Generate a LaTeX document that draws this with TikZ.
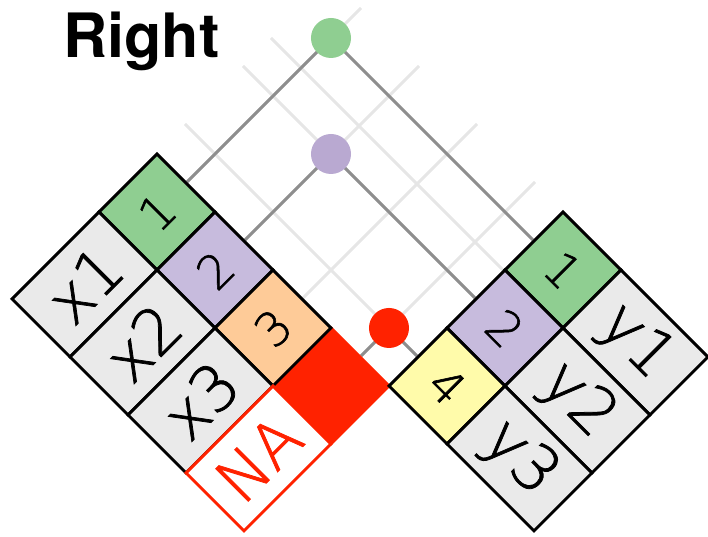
\documentclass[tikz,border=0pt]{standalone}
\usepackage{fontspec}
\setmainfont{DejaVu Sans ExtraLight}[FakeBold=1.2]
\newfontfamily\titlefont{TeX Gyre Heros}
\usetikzlibrary{positioning}
\pgfdeclarelayer{back}
\pgfsetlayers{back,main}

\definecolor{keygreen}{HTML}{8FCE91}
\definecolor{keypurple}{HTML}{C7BBDD}
\definecolor{keyorange}{HTML}{FECB98}
\definecolor{keyyellow}{HTML}{FFFBAA}
\definecolor{keyred}{HTML}{FF2200}
\definecolor{valgrey}{HTML}{EAEAEA}
\definecolor{dotpurple}{HTML}{B9A9D1}
\definecolor{linkgrey}{HTML}{8E8E8E}
\definecolor{gridgrey}{HTML}{E6E6E6}

\tikzset{
  cell/.style={draw, line width=1.4pt, inner sep=0pt, minimum size=1.414cm},
  keycell/.style={cell, font=\fontsize{23}{23}\selectfont},
  valcell/.style={cell, fill=valgrey, minimum width=2.121cm, minimum height=1.414cm,
    font=\fontsize{31}{31}\selectfont},
  dot/.style={circle, inner sep=0pt, minimum size=0.69cm},
  link/.style={line width=1.5pt, draw=linkgrey},
  gridline/.style={line width=1.4pt, draw=gridgrey}
}

\begin{document}
\begin{tikzpicture}
  \useasboundingbox (-2.707,-6.603) rectangle (9.5,2.655);

  \node[anchor=base west, font=\titlefont\bfseries\fontsize{30}{30}\selectfont] (title) at (-1.74,1.67) {Right};

  % x table, keys up-right, values down-left
  \node[keycell, fill=keyred, draw=keyred, rotate=45] (l4) at (3,-4) {};
  \node[keycell, fill=keygreen, rotate=45] (l1) at (0,-1) {1};
  \node[keycell, fill=keypurple, rotate=45] (l2) at (1,-2) {2};
  \node[keycell, fill=keyorange, rotate=45] (l3) at (2,-3) {3};
  \node[valcell, rotate=45] (x1) at (-1.25,-2.25) {x1};
  \node[valcell, rotate=45] (x2) at (-0.25,-3.25) {x2};
  \node[valcell, rotate=45] (x3) at (0.75,-4.25) {x3};
  \node[valcell, fill=white, draw=keyred, text=keyred, rotate=45] (xna) at (1.75,-5.25) {NA};

  % y table
  \node[keycell, fill=keygreen, rotate=-45] (r1) at (7,-2) {1};
  \node[keycell, fill=keypurple, rotate=-45] (r2) at (6,-3) {2};
  \node[keycell, fill=keyyellow, rotate=-45] (r3) at (5,-4) {4};
  \node[valcell, rotate=-45] (y1) at (8.25,-3.25) {y1};
  \node[valcell, rotate=-45] (y2) at (7.25,-4.25) {y2};
  \node[valcell, rotate=-45] (y3) at (6.25,-5.25) {y3};

  % matches
  \node[dot, fill=keygreen] (g) at (3,2) {};
  \node[dot, fill=dotpurple] (p) at (3,0) {};
  \node[dot, fill=keyred] (r) at (4,-3) {};

  \begin{pgfonlayer}{back}
    \foreach \k in {1,...,4}
      \draw[gridline] (l\k.east) -- ++(3,3);
    \draw[gridline] (r1.south west) -- ++(-4,4);
    \foreach \k in {2,3}
      \draw[gridline] (r\k.west) -- ++(-4,4);

    \draw[link] (l1.east) -- (g.center) -- (r1.west);
    \draw[link] (l2.east) -- (p.center) -- (r2.west);
    \draw[link] (l4.east) -- (r.center) -- (r3.west);
  \end{pgfonlayer}
\end{tikzpicture}
\end{document}
